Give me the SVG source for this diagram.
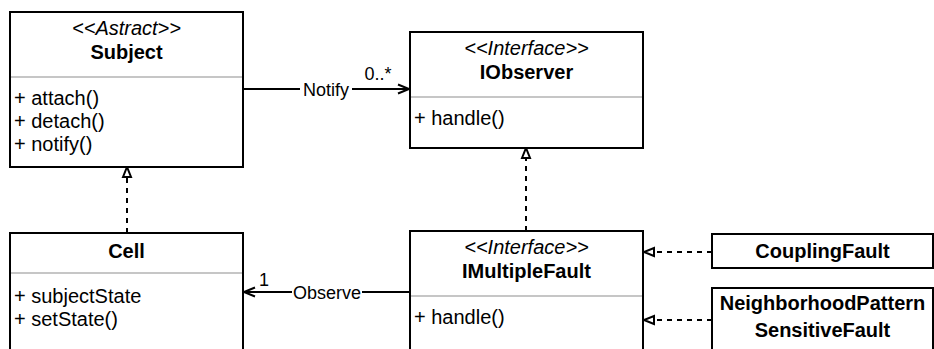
<svg xmlns="http://www.w3.org/2000/svg" width="934" height="349" viewBox="0 0 934 349">
<style>
text{font-family:"Liberation Sans",Arial,sans-serif;fill:#000}
.box{fill:#fff;stroke:#000;stroke-width:2}
.div{stroke:#b3b3b3;stroke-width:1.5}
.st{font-size:20px;font-style:italic;text-anchor:middle}
.nm{font-size:20px;font-weight:bold;text-anchor:middle}
.mb{font-size:20px}
.lbl{font-size:18px}
.assoc{stroke:#000;stroke-width:2;fill:none}
.real{stroke:#000;stroke-width:2;fill:none;stroke-dasharray:5 5}
</style>
<defs>
<marker id="tri" markerUnits="userSpaceOnUse" markerWidth="14" markerHeight="14" refX="11" refY="5" orient="auto" overflow="visible">
<path d="M1,1 L11,5 L1,9 Z" fill="#fff" stroke="#000" stroke-width="2" stroke-dasharray="none"/>
</marker>
<marker id="open" markerUnits="userSpaceOnUse" markerWidth="14" markerHeight="14" refX="11" refY="5" orient="auto" overflow="visible">
<path d="M0,0.5 L11,5 L0,9.5" fill="none" stroke="#000" stroke-width="2"/>
</marker>
</defs>
<g id="connectors">
<line class="assoc" x1="243" y1="89" x2="409" y2="89" marker-end="url(#open)"/>
<line class="assoc" x1="410" y1="292" x2="244" y2="292" marker-end="url(#open)"/>
<line class="real" x1="127" y1="233" x2="127" y2="167" marker-end="url(#tri)"/>
<line class="real" x1="526" y1="231" x2="526" y2="148" marker-end="url(#tri)"/>
<line class="real" x1="712" y1="252" x2="644" y2="252" marker-end="url(#tri)"/>
<line class="real" x1="712" y1="320" x2="644" y2="320" marker-end="url(#tri)"/>
<rect x="300" y="78" width="52" height="20" fill="#fff"/>
<text class="lbl" x="326" y="96" text-anchor="middle">Notify</text>
<text class="lbl" x="378" y="80" text-anchor="middle">0..*</text>
<rect x="292" y="281" width="70" height="20" fill="#fff"/>
<text class="lbl" x="327" y="299" text-anchor="middle">Observe</text>
<text class="lbl" x="264" y="286" text-anchor="middle">1</text>
</g>
<g id="subject">
<rect class="box" x="10" y="12" width="233" height="155"/>
<line class="div" x1="11" y1="77" x2="242" y2="77"/>
<text class="st" x="126.5" y="35">&lt;&lt;Astract&gt;&gt;</text>
<text class="nm" x="126.5" y="59">Subject</text>
<text class="mb" x="14" y="105">+ attach()</text>
<text class="mb" x="14" y="128">+ detach()</text>
<text class="mb" x="14" y="151">+ notify()</text>
</g>
<g id="iobserver">
<rect class="box" x="410" y="32" width="233" height="116"/>
<line class="div" x1="411" y1="97" x2="642" y2="97"/>
<text class="st" x="526.5" y="55">&lt;&lt;Interface&gt;&gt;</text>
<text class="nm" x="526.5" y="79">IObserver</text>
<text class="mb" x="414" y="125">+ handle()</text>
</g>
<g id="cell">
<rect class="box" x="10" y="233" width="233" height="130"/>
<line class="div" x1="11" y1="273" x2="242" y2="273"/>
<text class="nm" x="126.5" y="258">Cell</text>
<text class="mb" x="14" y="303">+ subjectState</text>
<text class="mb" x="14" y="326">+ setState()</text>
</g>
<g id="imultiplefault">
<rect class="box" x="410" y="231" width="233" height="130"/>
<line class="div" x1="411" y1="296" x2="642" y2="296"/>
<text class="st" x="526.5" y="254">&lt;&lt;Interface&gt;&gt;</text>
<text class="nm" x="526.5" y="278">IMultipleFault</text>
<text class="mb" x="414" y="324">+ handle()</text>
</g>
<g id="couplingfault">
<rect class="box" x="712" y="234" width="221" height="34"/>
<text class="nm" x="822.5" y="258">CouplingFault</text>
</g>
<g id="npsf">
<rect class="box" x="712" y="288" width="221" height="75"/>
<text class="nm" x="822.5" y="310">NeighborhoodPattern</text>
<text class="nm" x="822.5" y="337">SensitiveFault</text>
</g>
</svg>
